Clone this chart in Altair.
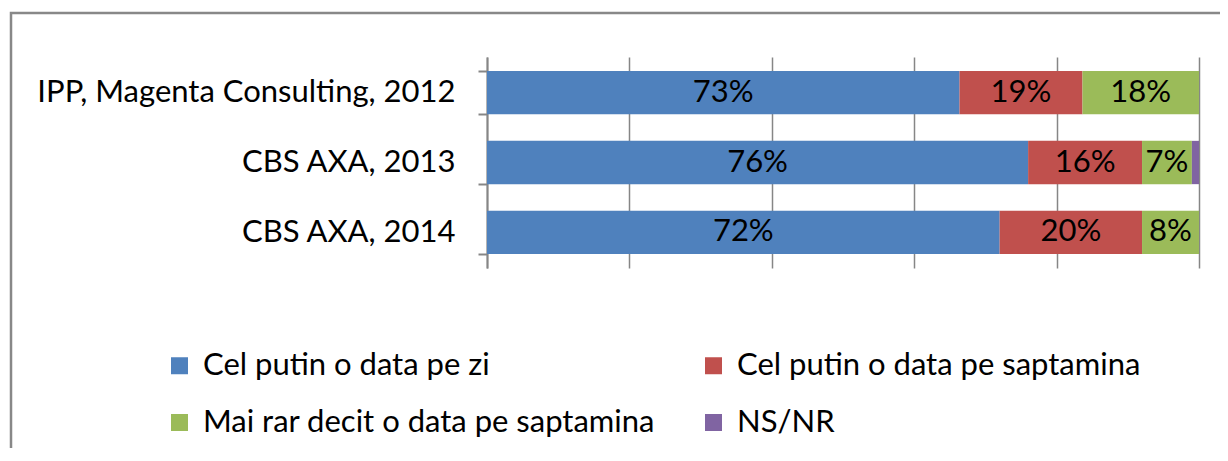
import altair as alt
import pandas as pd

sources = ["IPP, Magenta Consulting, 2012", "CBS AXA, 2013", "CBS AXA, 2014"]
categories = ["Cel putin o data pe zi", "Cel putin o data pe saptamina",
              "Mai rar decit o data pe saptamina", "NS/NR"]
daily = [73, 76, 72]
weekly = [19, 16, 20]
rarer = [18, 7, 8]
nsnr = [0, 1, 0]
colors = ["#4F81BD", "#C0504D", "#9BBB59", "#8064A2"]
x_ticks = [0, 0.2, 0.4, 0.6, 0.8, 1.0]

rows = []
for i, s in enumerate(sources):
    for j, (cat, vals) in enumerate(zip(categories, [daily, weekly, rarer, nsnr])):
        v = vals[i]
        rows.append({"source": s, "category": cat, "order": j, "value": v,
                     "label": f"{v}%" if v >= 5 else ""})
df = pd.DataFrame(rows)

FONT = "Lato"
FS = 31

base = alt.Chart(df).transform_stack(
    stack="value", groupby=["source"], as_=["x0", "x1"], offset="normalize",
    sort=[alt.SortField("order", order="ascending")]
).transform_calculate(mid="(datum.x0 + datum.x1) / 2")

y_enc = alt.Y("source:N", sort=sources, title=None,
              scale=alt.Scale(paddingInner=0.38, paddingOuter=0.2),
              axis=alt.Axis(domainColor="#868686", domainWidth=2, tickColor="#868686",
                            tickWidth=2, tickSize=9, tickBand="extent", grid=False,
                            labelFont=FONT, labelFontSize=FS, labelColor="#000000",
                            labelPadding=23, labelLimit=600))

bars = base.mark_bar().encode(
    x=alt.X("x0:Q", scale=alt.Scale(domain=[0, 1], nice=False), title=None,
            axis=alt.Axis(values=x_ticks, labels=False, ticks=False, domain=False,
                          grid=True, gridColor="#868686", gridWidth=1.5)),
    x2="x1:Q",
    y=y_enc,
    color=alt.Color("category:N", scale=alt.Scale(domain=categories, range=colors),
                    legend=alt.Legend(title=None, orient="none", legendX=-323, legendY=293,
                                      direction="horizontal",
                                      columns=2, columnPadding=42, rowPadding=25,
                                      symbolType="square", symbolSize=289,
                                      symbolStrokeWidth=0, symbolOpacity=1,
                                      labelFont=FONT, labelFontSize=FS,
                                      labelColor="#000000", labelOffset=8,
                                      labelLimit=700, padding=0)),
    order=alt.Order("order:Q")
)

text = base.mark_text(font=FONT, fontSize=FS, color="#000000").encode(
    x=alt.X("mid:Q"),
    y=alt.Y("source:N", sort=sources),
    text="label:N"
)

frame = alt.Chart(alt.Data(values=[{"a": 1}])).mark_rect(
    fill=None, stroke="#888888", strokeWidth=2.5
).encode(x=alt.value(-476), y=alt.value(-44), x2=alt.value(760), y2=alt.value(600))

chart = alt.layer(frame, bars, text).properties(
    width=712, height=211,
    autosize=alt.AutoSizeParams(type="none"),
    padding={"left": 479, "top": 49, "right": 21, "bottom": 180}
).configure_view(stroke=None)

chart.save("out.html", embed_options={"renderer": "svg", "actions": False})
